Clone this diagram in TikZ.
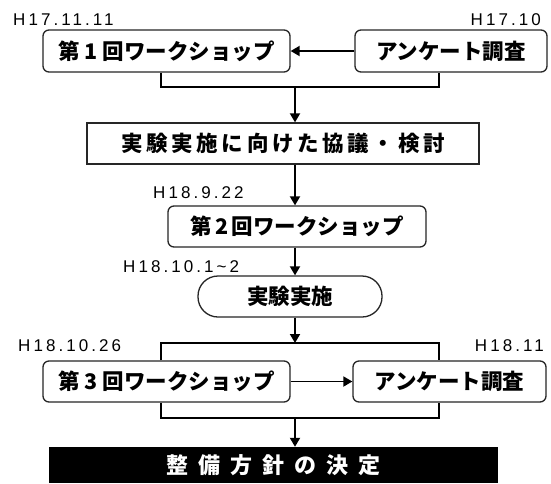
\documentclass[tikz,border=0pt]{standalone}
\usepackage{fontspec}
\setmainfont{Liberation Sans}
\newfontfamily\jp{Noto Sans CJK JP}
\newfontfamily\jpls{Noto Sans CJK JP}[LetterSpace=17]
\newfontfamily\jpwide{Noto Sans CJK JP}[LetterSpace=45]
\newfontfamily\datef{Liberation Sans}[LetterSpace=18]
\usetikzlibrary{arrows.meta}
\begin{document}
\begin{tikzpicture}[x=1pt,y=-1pt,
  wbox/.style={draw=black!85, line width=1.3pt, rounded corners=6pt, fill=white, inner sep=0pt, font=\jp\bfseries\fontsize{21.5}{21.5}\selectfont},
  conn/.style={line width=1.8pt},
  arr/.style={line width=1.8pt, -{Triangle[length=9pt,width=10pt]}},
  date/.style={font=\datef\fontsize{17}{17}\selectfont, inner sep=0pt}]
\useasboundingbox (0,0) rectangle (551,483);
\fill[white] (0,0) rectangle (551,483);

\node[wbox, minimum width=247pt, minimum height=42pt] (b1) at (166.5,51) {第 1 回ワークショップ};
\node[wbox, minimum width=192pt, minimum height=42pt] (b2) at (451,51) {アンケート調査};
\node[wbox, rounded corners=0pt, minimum width=392pt, minimum height=41pt, font=\jpls\bfseries\fontsize{21.5}{21.5}\selectfont] (b3) at (283,143.5) {実験実施に向けた協議・検討};
\node[wbox, minimum width=258pt, minimum height=41pt] (b4) at (297,226.5) {第\,2\,回ワークショップ};
\node[wbox, rounded corners=20pt, minimum width=184pt, minimum height=41pt] (b5) at (290,296.5) {実験実施};
\node[wbox, minimum width=247pt, minimum height=41pt] (b6) at (166.5,381.5) {第 3 回ワークショップ};
\node[wbox, minimum width=193pt, minimum height=41pt] (b7) at (449.5,381.5) {アンケート調査};
\node[fill=black, text=white, minimum width=449pt, minimum height=36pt, inner sep=0pt, font=\jpwide\bfseries\fontsize{22}{22}\selectfont] (b8) at (273.5,465) {整備方針の決定};

\node[date, anchor=base west] (d1) at (13,25) {H17.11.11};
\node[date, anchor=base east] (d2) at (541,25) {H17.10};
\node[date, anchor=base west] (d3) at (153,198) {H18.9.22};
\node[date, anchor=base west] (d4) at (123,272) {H18.10.1\hspace{3pt}\textasciitilde\hspace{3pt}2};
\node[date, anchor=base west] (d5) at (18,351) {H18.10.26};
\node[date, anchor=base east] (d6) at (544,351) {H18.11};

\coordinate (L1) at (161,87); \coordinate (R1) at (439,87); \coordinate (J1) at (295,87);
\coordinate (L2) at (161,343); \coordinate (R2) at (439,343); \coordinate (J2) at (295,343);
\coordinate (L3) at (161,418); \coordinate (R3) at (439,418); \coordinate (J3) at (295,418);

\draw[arr] (b2.west) -- (b1.east);
\draw[conn] (b1.south -| L1) -- (L1) -- (R1) -- (b2.south -| R1);
\draw[arr] (J1) -- (b3.north -| J1);
\draw[arr] (b3.south -| J1) -- (b4.north -| J1);
\draw[arr] (b4.south -| J1) -- (b5.north -| J1);
\draw[arr] (b5.south -| J2) -- (J2);
\draw[conn] (b6.north -| L2) -- (L2) -- (R2) -- (b7.north -| R2);
\draw[arr] (b6.east) -- (b7.west);
\draw[conn] (b6.south -| L3) -- (L3) -- (R3) -- (b7.south -| R3);
\draw[arr] (J3) -- (b8.north -| J3);
\end{tikzpicture}
\end{document}
